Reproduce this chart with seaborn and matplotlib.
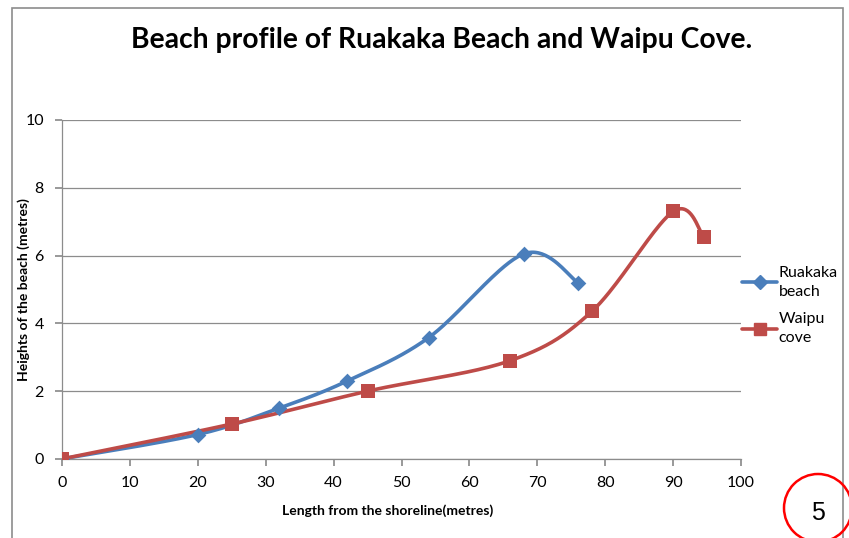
import numpy as np
import pandas as pd
import matplotlib.pyplot as plt
import matplotlib.patches as mpatches
from matplotlib.lines import Line2D
import seaborn as sns

# Beach profile readings (distance in m, height in m)
ruakaka_x = [0, 20, 32, 42, 54, 68, 76]
ruakaka_y = [0, 0.72, 1.5, 2.3, 3.58, 6.05, 5.2]
waipu_x = [0, 25, 45, 66, 78, 90, 94.5]
waipu_y = [0, 1.03, 2.0, 2.9, 4.35, 7.3, 6.55]

BLUE = '#4A7EBB'
RED = '#BE4B48'


def smooth(xs, ys, n=40):
    # Excel-style smoothed line (Catmull-Rom through the points)
    p = np.column_stack([xs, ys]).astype(float)
    p = np.vstack([p[0], p, p[-1]])
    out = []
    for i in range(1, len(p) - 2):
        p0, p1, p2, p3 = p[i - 1], p[i], p[i + 1], p[i + 2]
        c1 = p1 + (p2 - p0) / 6
        c2 = p2 - (p3 - p1) / 6
        t = np.linspace(0, 1, n)[:, None]
        seg = ((1 - t) ** 3) * p1 + 3 * ((1 - t) ** 2) * t * c1 \
            + 3 * (1 - t) * t ** 2 * c2 + t ** 3 * p2
        out.append(seg)
    seg = np.vstack(out)
    return seg[:, 0], seg[:, 1]


def main():
    sns.set_theme(style='white')
    plt.rcParams['font.family'] = ['Lato', 'DejaVu Sans']
    plt.rcParams['text.color'] = 'black'
    plt.rcParams['axes.labelcolor'] = 'black'
    plt.rcParams['xtick.color'] = 'black'
    plt.rcParams['ytick.color'] = 'black'

    fig = plt.figure(figsize=(8.49, 5.38), dpi=100)
    ax = fig.add_axes([0.073, 0.147, 0.8, 0.630])

    for xs, ys, col, mk, ms in [(ruakaka_x, ruakaka_y, BLUE, 'D', 8),
                                (waipu_x, waipu_y, RED, 's', 10)]:
        sx, sy = smooth(xs, ys)
        curve = pd.DataFrame({'x': sx, 'y': sy})
        sns.lineplot(data=curve, x='x', y='y', sort=False, color=col,
                     linewidth=2.6, ax=ax, legend=False)
        pts = pd.DataFrame({'x': xs, 'y': ys})
        sns.scatterplot(data=pts, x='x', y='y', marker=mk, s=ms ** 2,
                        color=col, edgecolor=col, linewidth=0, ax=ax,
                        legend=False, zorder=5)

    ax.set_xlim(0, 100)
    ax.set_ylim(0, 10)
    ax.set_xticks(range(0, 101, 10))
    ax.set_yticks(range(0, 11, 2))
    ax.yaxis.grid(True, color='#8c8c8c', linewidth=0.9)
    ax.xaxis.grid(False)
    for s in ['top', 'right']:
        ax.spines[s].set_visible(False)
    for s in ['left', 'bottom']:
        ax.spines[s].set_color('#8c8c8c')
        ax.spines[s].set_linewidth(0.9)
    ax.tick_params(axis='both', direction='out', length=5, color='#8c8c8c',
                   labelsize=11.5, bottom=True, left=True)
    ax.tick_params(axis='x', pad=7)
    ax.tick_params(axis='y', pad=8)
    ax.set_axisbelow(True)

    ax.set_xlabel('Length from the shoreline(metres)', fontsize=10,
                  fontweight='bold')
    ax.set_ylabel('Heights of the beach (metres)', fontsize=10,
                  fontweight='bold')
    ax.xaxis.set_label_coords(0.479, -0.133)
    ax.yaxis.set_label_coords(-0.047, 0.5)

    fig.text(0.52, 0.925, 'Beach profile of Ruakaka Beach and Waipu Cove.',
             ha='center', va='center', fontsize=20.3, fontweight='bold')

    handles = [
        Line2D([], [], color=BLUE, lw=2.6, marker='D', ms=7),
        Line2D([], [], color=RED, lw=2.6, marker='s', ms=9),
    ]
    leg = fig.legend(handles, ['Ruakaka\nbeach', 'Waipu\ncove'],
                     loc='center left', bbox_to_anchor=(0.857, 0.432),
                     frameon=False, fontsize=11.5, handlelength=2.2,
                     handletextpad=0.1, labelspacing=0.85)
    for t in leg.get_texts():
        t.set_linespacing(1.45)

    # chart border and page number circle
    fig.add_artist(mpatches.Rectangle((12 / 849, -0.05), 831 / 849,
                                      1 - 8 / 538 + 0.05,
                                      transform=fig.transFigure, fill=False,
                                      edgecolor='#8c8c8c', linewidth=1.2))
    fig.add_artist(mpatches.Ellipse((818 / 849, 1 - 508 / 538),
                                    68 / 849, 68 / 538,
                                    transform=fig.transFigure, fill=False,
                                    edgecolor='red', linewidth=1.8))
    fig.text(818 / 849, 1 - 513 / 538, '5', ha='center', va='center',
             fontsize=18, family='Liberation Sans')

    fig.savefig('out.png', dpi=100)


if __name__ == '__main__':
    main()
